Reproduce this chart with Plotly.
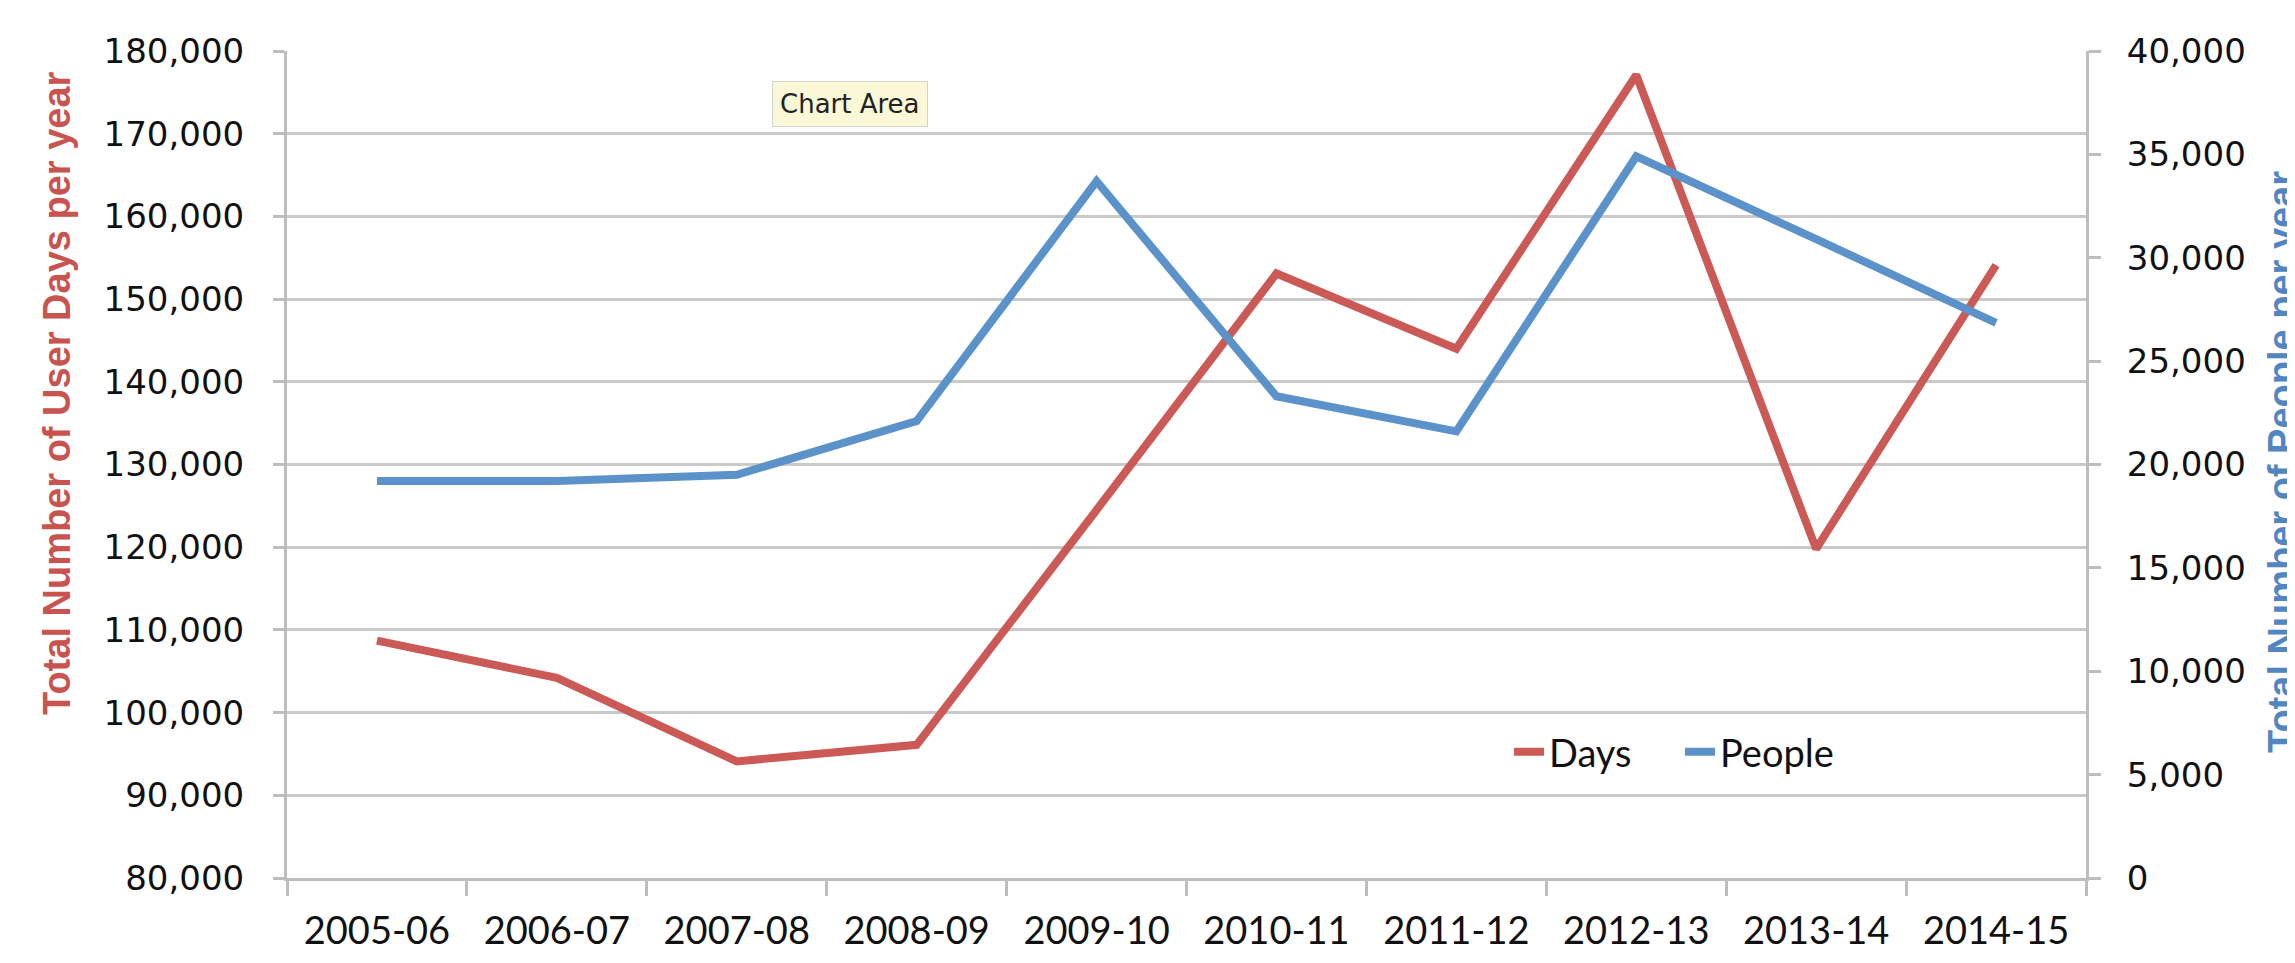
import plotly.graph_objects as go

categories = ["2005-06", "2006-07", "2007-08", "2008-09", "2009-10",
              "2010-11", "2011-12", "2012-13", "2013-14", "2014-15"]
days = [108700, 104200, 94100, 96100, 124500, 153100, 144000, 177100, 119800, 154100]
people = [19200, 19200, 19500, 22100, 33700, 23300, 21600, 34900, 30900, 26850]

RED = "#CB5A57"
BLUE = "#5A92C9"
GRID = "#C9C9C9"
AXIS = "#BDBDBD"

W, H = 2295, 963
OFF = 8  # default page body margin shifts the figure
ML, MR, MT, MB = 287 - OFF, 209 + OFF, 51 - OFF, 85 + OFF
PW = W - ML - MR
PH = H - MT - MB


def px_x(x):
    return (x - OFF - ML) / PW


def px_y(y):
    return (H - MB - (y - OFF)) / PH


fig = go.Figure()
fig.add_trace(go.Scatter(x=categories, y=days, name="Days", mode="lines",
                         line=dict(color=RED, width=8), yaxis="y"))
fig.add_trace(go.Scatter(x=categories, y=people, name="People", mode="lines",
                         line=dict(color=BLUE, width=8), yaxis="y2"))

tick_font_y = dict(family="DejaVu Sans", size=34, color="#111111")

fig.update_layout(
    width=W, height=H,
    margin=dict(l=ML, r=MR, t=MT, b=MB, pad=0),
    paper_bgcolor="white", plot_bgcolor="white",
    showlegend=True,
    legend=dict(orientation="h", x=px_x(1509), y=px_y(752), xanchor="left", yanchor="middle",
                bgcolor="rgba(0,0,0,0)", font=dict(family="Lato", size=38, color="#111111"),
                itemwidth=30, entrywidth=126, entrywidthmode="pixels"),
    xaxis=dict(type="category", range=[-0.5, 9.5], tickson="boundaries",
               ticks="outside", ticklen=15, tickwidth=3, tickcolor=AXIS,
               showline=True, linecolor=AXIS, linewidth=3, showgrid=False,
               tickfont=dict(family="Lato", size=38, color="#111111"),
               ticklabelstandoff=17),
    yaxis=dict(range=[80000, 180000], dtick=10000, tick0=80000, tickformat=",d",
               ticks="outside", ticklen=11, tickwidth=3, tickcolor=AXIS,
               showline=True, linecolor=AXIS, linewidth=3,
               showgrid=True, gridcolor=GRID, gridwidth=3, zeroline=False,
               tickfont=tick_font_y, ticklabelstandoff=22),
    yaxis2=dict(range=[0, 40000], dtick=5000, tick0=0, tickformat=",d",
                overlaying="y", side="right",
                ticks="outside", ticklen=12, tickwidth=3, tickcolor=AXIS,
                showline=True, linecolor=AXIS, linewidth=3,
                showgrid=False, zeroline=False,
                tickfont=tick_font_y, ticklabelstandoff=19),
    annotations=[
        dict(text="<b>Total Number of User Days per year</b>", textangle=-90,
             xref="paper", yref="paper", x=px_x(57), y=px_y(393),
             showarrow=False, xanchor="center", yanchor="middle",
             font=dict(family="Liberation Sans", size=38, color="#C9544F")),
        dict(text="<b>Total Number of People per year</b>", textangle=-90,
             xref="paper", yref="paper", x=px_x(2282), y=px_y(462),
             showarrow=False, xanchor="center", yanchor="middle",
             font=dict(family="Liberation Sans", size=38, color="#5286C2")),
        dict(text="Chart Area", xref="paper", yref="paper",
             x=px_x(850), y=px_y(104), showarrow=False,
             xanchor="center", yanchor="middle",
             font=dict(family="DejaVu Sans", size=26, color="#222222"),
             bgcolor="#FBF8D8", bordercolor="#D2D2D2", borderwidth=1,
             borderpad=7),
    ],
)

fig.write_html("out.html")
